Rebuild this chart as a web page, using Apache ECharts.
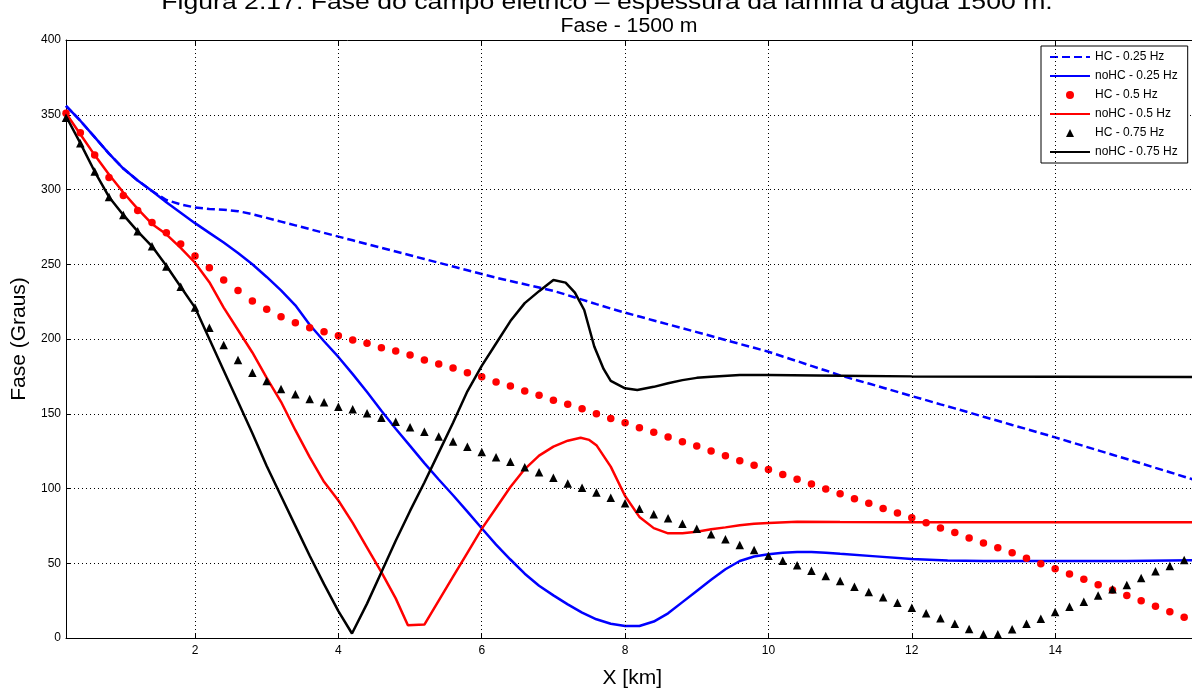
<!DOCTYPE html>
<html><head><meta charset="utf-8">
<script src="https://cdn.jsdelivr.net/npm/echarts@6/dist/echarts.min.js"></script>
<style>html,body{margin:0;padding:0;background:#fff;overflow:hidden}#c{width:1192px;height:689px}</style>
</head><body><div id="c"></div>
<script>
const titleMain = "Figura 2.17: Fase do campo elétrico – espessura da lâmina d'água 1500 m.";
const titleSub = "Fase - 1500 m";
const xTicks = [2, 4, 6, 8, 10, 12, 14, 16];
const yTicks = [0, 50, 100, 150, 200, 250, 300, 350, 400];
const seriesNames = ["HC - 0.25 Hz", "noHC - 0.25 Hz", "HC - 0.5 Hz", "noHC - 0.5 Hz", "HC - 0.75 Hz", "noHC - 0.75 Hz"];

// HC sampling positions (km)
const xHC = [0.2,0.4,0.6,0.8,1.0,1.2,1.4,1.6,1.8,2.0,2.2,2.4,2.6,2.8,3.0,3.2,3.4,3.6,3.8,4.0,
  4.2,4.4,4.6,4.8,5.0,5.2,5.4,5.6,5.8,6.0,6.2,6.4,6.6,6.8,7.0,7.2,7.4,7.6,7.8,8.0,
  8.2,8.4,8.6,8.8,9.0,9.2,9.4,9.6,9.8,10.0,10.2,10.4,10.6,10.8,11.0,11.2,11.4,11.6,11.8,12.0,
  12.2,12.4,12.6,12.8,13.0,13.2,13.4,13.6,13.8,14.0,14.2,14.4,14.6,14.8,15.0,15.2,15.4,15.6,15.8,16.0];
const hc025 = [356,346,335,324,314,306,299,293,290,288,287,286.5,285.5,283.5,281,278.5,276,273.5,271,268.5,
  266,263.5,261,258.5,256,253.5,251,248.5,246,243.5,241,238.8,236.6,234.4,232.2,229.3,226.3,223.3,220.4,217.6,
  215,212.4,209.8,207.2,204.6,202,199.3,196.7,194.1,191.5,188.3,185.2,182,178.9,175.7,172.9,170.2,167.4,164.6,161.8,
  159.1,156.3,153.6,150.8,148,145.3,142.5,139.8,137,134.2,131.3,128.4,125.5,122.6,119.7,116.8,113.8,110.9,107.9,104.9];
const hc05 = [351,338,323,308,296,286,278,271,263.5,255.5,247.7,239.5,232.5,225.4,219.9,214.9,210.9,207.6,204.9,202.2,
  199.3,197.1,194.2,192,189.3,186,183.3,180.6,177.5,174.8,171.3,168.6,165.2,162.3,159,156.3,153.4,150,146.9,144,
  140.7,137.6,134.4,131.3,128.4,125.1,121.9,118.6,115.5,112.7,109.3,106.2,103,99.7,96.5,93.2,90.1,86.7,83.6,80.5,
  77.1,73.6,70.5,66.9,63.5,60.4,57.1,53.3,49.7,46.4,42.8,39.3,35.7,32.1,28.5,25,21.2,17.6,13.8,10.5];
const hc075 = [348,331,312,295,283,272,262,248.5,235,221,207.6,196,186,177.5,171.9,166.6,163,159.9,157.7,154.7,
  153,150.3,147.4,144.7,140.9,138,134.7,131.5,128,124.4,120.9,117.9,114.2,110.8,107.2,103.4,100.5,97.4,93.8,90.1,
  86.5,82.7,80.1,76.5,73.1,69.4,66,62.2,58.8,55.1,51.6,48.6,45,41.5,38.1,34.3,30.8,27.2,23.6,20.3,
  16.5,13.2,9.6,6,2.5,2.5,5.8,9.6,12.9,17.4,20.9,24.3,28.5,32.6,35.5,40.1,44.6,48.2,52.2,55.5];

// noHC curves
const x25 = [0.2,0.4,0.6,0.8,1.0,1.2,1.4,1.6,1.8,2.0,2.2,2.4,2.6,2.8,3.0,3.2,3.4,3.6,3.8,4.0,
  4.2,4.4,4.6,4.8,5.0,5.2,5.4,5.6,5.8,6.0,6.2,6.4,6.6,6.8,7.0,7.2,7.4,7.6,7.8,8.0,
  8.2,8.4,8.6,8.8,9.0,9.2,9.4,9.6,9.8,10.0,10.2,10.4,10.6,10.8,11.0,11.5,12.0,12.5,13.0,14.0,15.0,16.0];
const y25 = [356,346,335,324,314,306,299,291.5,284.5,277.5,271,264.5,257.5,250,241.5,232.5,222.5,209.5,198.5,188,
  176.5,164.5,152,140,128.5,117,106,95.5,84.5,73.4,62.5,52.5,43,35,28.5,22.5,17,12.5,9.5,8,
  8,11,16.5,24,31.5,39,46,51.5,54.5,56,57,57.5,57.5,57,56.3,54.6,52.8,51.8,51.5,51.5,51.5,52];
const x5 = [0.2,0.4,0.6,0.8,1.0,1.2,1.4,1.6,1.8,2.0,2.2,2.4,2.6,2.8,3.0,3.2,3.4,3.6,3.8,4.0,4.2,4.4,4.6,4.8,4.97,
  5.2,5.4,5.6,5.8,6.0,6.2,6.4,6.6,6.8,7.0,7.2,7.38,7.5,7.6,7.8,8.0,8.2,8.4,8.6,8.8,9.0,9.2,9.4,9.6,9.8,10.0,
  10.4,11.0,12.0,14.0,16.0];
const y5 = [351,337,323,310,298,287,277,270,261,251,238,221,206,191,174,158,139,121,104.5,92,77,60.5,44,26.5,8.5,
  9,25,41,57,73,87,101,113,122,128,132,134,132.5,129,114.6,95,81,73.5,70,70,71,72.7,74,75.4,76.4,77,
  77.8,77.6,77.4,77.4,77.4];
const x75 = [0.2,0.4,0.6,0.8,1.0,1.2,1.4,1.6,1.8,2.0,2.2,2.4,2.6,2.8,3.0,3.2,3.4,3.6,3.8,4.0,4.19,
  4.4,4.6,4.8,5.0,5.2,5.4,5.6,5.8,6.0,6.2,6.4,6.6,6.8,7.0,7.17,7.3,7.43,7.57,7.7,7.8,8.0,8.17,
  8.4,8.6,8.8,9.0,9.2,9.6,10.0,11.0,12.0,14.0,16.0];
const y75 = [349,331,312,295,283,272,262,249,235,221,200,179,158,137,115,95,75,55,36,18,3,
  23,44,65,85,104,124,144,165,182,197,212,224,232,239.5,237.7,231,219.4,195,180,172,167,165.9,
  168,170.4,172.5,174,174.8,176,176,175.5,175,174.8,174.5];

const FONT = '"Liberation Sans", Arial, Helvetica, sans-serif';
const pairs = (xs, ys) => xs.map((x, i) => [x, ys[i]]);
const chart = echarts.init(document.getElementById('c'));

const axisLineStyle = { color: '#000', width: 1 };
const lineOnly = { itemStyle: { opacity: 0 } };
const option = {
  animation: false,
  backgroundColor: '#fff',
  textStyle: { fontFamily: FONT },
  graphic: [
    { type: 'text', x: 607, y: 3, scaleX: 1.21, z: 10,
      style: { text: titleMain, fontSize: 22, fontFamily: FONT, fill: '#000', textAlign: 'center', align: 'center', textVerticalAlign: 'middle', verticalAlign: 'middle' } },
    { type: 'text', x: 629, y: 27, scaleX: 1.09, z: 10,
      style: { text: titleSub, fontSize: 19.5, fontFamily: FONT, fill: '#000', textAlign: 'center', align: 'center', textVerticalAlign: 'middle', verticalAlign: 'middle' } }
  ],
  grid: { left: 66, top: 40, bottom: 51, width: 1132.5, containLabel: false, outerBoundsMode: 'none' },
  xAxis: [
    { type: 'value', min: 0.2, max: 16, position: 'bottom',
      axisLine: { show: true, onZero: false, lineStyle: axisLineStyle },
      axisTick: { show: true, inside: true, length: 5, customValues: xTicks, lineStyle: axisLineStyle },
      axisLabel: { customValues: xTicks, margin: 7, fontSize: 12, color: '#000', fontFamily: FONT, showMaxLabel: true, hideOverlap: false },
      splitLine: { show: false },
      name: 'X [km]', nameLocation: 'middle', nameGap: 30,
      nameTextStyle: { fontSize: 21, color: '#000', fontFamily: FONT } },
    { type: 'value', min: 0.2, max: 16, position: 'top',
      axisLine: { show: true, onZero: false, lineStyle: axisLineStyle },
      axisTick: { show: true, inside: true, length: 5, customValues: xTicks, lineStyle: axisLineStyle },
      axisLabel: { show: false }, splitLine: { show: false } }
  ],
  yAxis: [
    { type: 'value', min: 0, max: 400, interval: 50, position: 'left',
      axisLine: { show: true, onZero: false, lineStyle: axisLineStyle },
      axisTick: { show: true, inside: true, length: 5, lineStyle: axisLineStyle },
      axisLabel: { margin: 5, fontSize: 12, color: '#000', fontFamily: FONT },
      splitLine: { show: true, lineStyle: { type: [1, 3], color: '#000', width: 1 } },
      name: 'Fase (Graus)', nameLocation: 'middle', nameRotate: 90, nameGap: 28,
      nameTextStyle: { fontSize: 21, color: '#000', fontFamily: FONT } }
  ],
  legend: {
    orient: 'vertical', left: 1041, top: 46,
    itemWidth: 40, itemHeight: 10, itemGap: 7,
    padding: [5, 10, 5, 8],
    borderColor: '#000', borderWidth: 1, backgroundColor: '#fff',
    textStyle: { fontSize: 12, color: '#000', fontFamily: FONT },
    data: [
      Object.assign({ name: seriesNames[0] }, lineOnly),
      Object.assign({ name: seriesNames[1] }, lineOnly),
      { name: seriesNames[2], lineStyle: { opacity: 0 } },
      Object.assign({ name: seriesNames[3] }, lineOnly),
      { name: seriesNames[4], lineStyle: { opacity: 0 } },
      Object.assign({ name: seriesNames[5] }, lineOnly)
    ]
  },
  series: [
    { name: 'grid', type: 'line', data: [], silent: true, z: 1,
      markLine: { silent: true, symbol: ['none', 'none'], animation: false,
        label: { show: false },
        lineStyle: { type: [1, 3], color: '#000', width: 1 },
        emphasis: { disabled: true },
        data: xTicks.map(v => ({ xAxis: v })) } },
    { name: seriesNames[0], type: 'line', data: pairs(xHC, hc025), symbol: 'none', silent: true,
      color: '#0000ff', lineStyle: { color: '#0000ff', width: 2.5, type: [8, 4] } },
    { name: seriesNames[1], type: 'line', data: pairs(x25, y25), symbol: 'none', silent: true,
      color: '#0000ff', lineStyle: { color: '#0000ff', width: 2.5 } },
    { name: seriesNames[2], type: 'line', data: pairs(xHC, hc05), symbol: 'circle', symbolSize: 7.5,
      showSymbol: true, showAllSymbol: true, silent: true, color: '#ff0000',
      itemStyle: { color: '#ff0000' }, lineStyle: { width: 0, opacity: 0 } },
    { name: seriesNames[3], type: 'line', data: pairs(x5, y5), symbol: 'none', silent: true,
      color: '#ff0000', lineStyle: { color: '#ff0000', width: 2.5 } },
    { name: seriesNames[4], type: 'line', data: pairs(xHC, hc075), symbol: 'triangle', symbolSize: 8.5,
      showSymbol: true, showAllSymbol: true, silent: true, color: '#000',
      itemStyle: { color: '#000' }, lineStyle: { width: 0, opacity: 0 } },
    { name: seriesNames[5], type: 'line', data: pairs(x75, y75), symbol: 'none', silent: true,
      color: '#000', lineStyle: { color: '#000', width: 2.5 } }
  ]
};
chart.setOption(option);
</script>
</body></html>
